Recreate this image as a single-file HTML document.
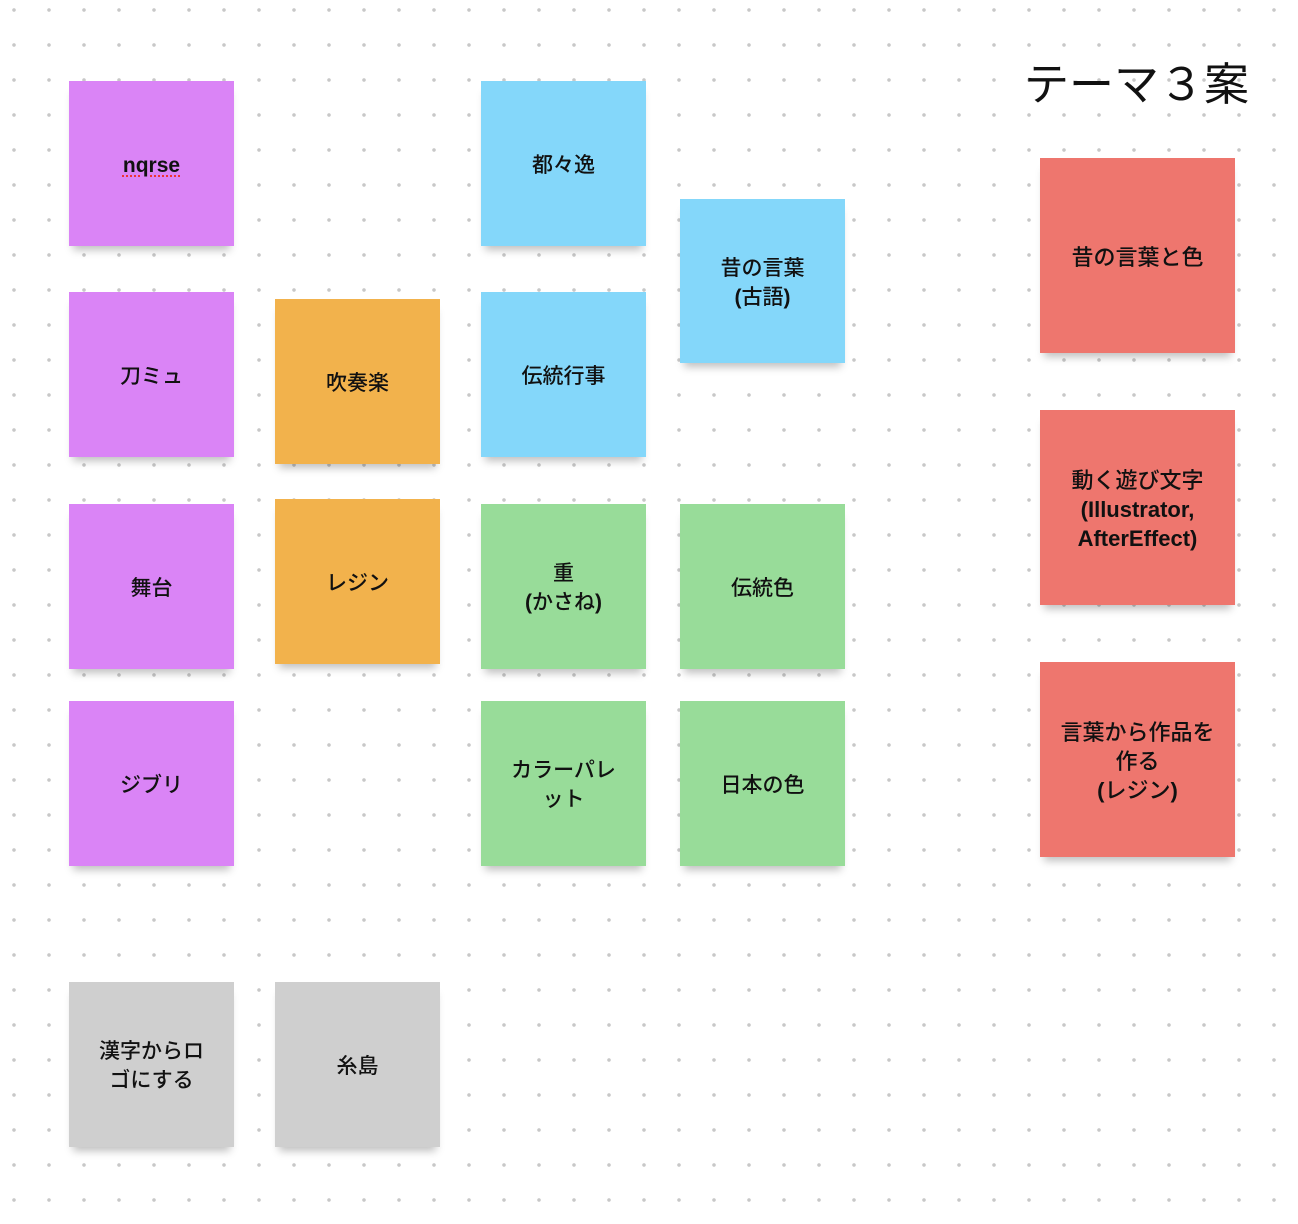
<!DOCTYPE html>
<html><head><meta charset="utf-8"><style>
html,body{margin:0;padding:0;}
body{width:1298px;height:1224px;position:relative;overflow:hidden;background:#fff;
background-image:radial-gradient(circle,#c8c8c8 1.6px,transparent 2px);
background-size:35px 35px;background-position:-3.5px -7.5px;
font-family:"Liberation Sans","Noto Sans CJK JP",sans-serif;}
.n{position:absolute;width:165px;height:165px;box-sizing:border-box;padding-top:3px;display:flex;align-items:center;justify-content:center;text-align:center;
font-size:21px;line-height:29px;font-weight:500;color:#111;box-shadow:0 8px 8px -4px rgba(0,0,0,0.25);}
.r{width:195px;height:195px;font-size:22px;}
.p{background:#DA84F6}.o{background:#F2B24C}.b{background:#84D7FA}.g{background:#98DC99}.y{background:#CFCFCF}.rd{background:#EE766E}
.t{position:absolute;left:1024px;top:56px;font-size:45px;line-height:58px;color:#111;}
b{font-weight:bold;}
u{font-weight:bold;text-decoration:underline dotted #e33;text-underline-offset:4px;text-decoration-thickness:2px;}
</style></head><body>
<div class="t">テーマ３案</div>
<div class="n p" style="left:69px;top:81px"><div><u>nqrse</u></div></div>
<div class="n p" style="left:69px;top:292px"><div>刀ミュ</div></div>
<div class="n p" style="left:69px;top:504px"><div>舞台</div></div>
<div class="n p" style="left:69px;top:701px"><div>ジブリ</div></div>
<div class="n o" style="left:275px;top:299px"><div>吹奏楽</div></div>
<div class="n o" style="left:275px;top:499px"><div>レジン</div></div>
<div class="n b" style="left:481px;top:81px"><div>都々逸</div></div>
<div class="n b" style="left:481px;top:292px"><div>伝統行事</div></div>
<div class="n b" style="left:680px;top:199px;height:164px"><div>昔の言葉<br><b>(</b>古語<b>)</b></div></div>
<div class="n g" style="left:481px;top:504px"><div>重<br><b>(</b>かさね<b>)</b></div></div>
<div class="n g" style="left:680px;top:504px"><div>伝統色</div></div>
<div class="n g" style="left:481px;top:701px"><div>カラーパレ<br>ット</div></div>
<div class="n g" style="left:680px;top:701px"><div>日本の色</div></div>
<div class="n y" style="left:69px;top:982px"><div>漢字からロ<br>ゴにする</div></div>
<div class="n y" style="left:275px;top:982px"><div>糸島</div></div>
<div class="n r rd" style="left:1040px;top:158px"><div>昔の言葉と色</div></div>
<div class="n r rd" style="left:1040px;top:410px"><div>動く遊び文字<br><b>(Illustrator,<br>AfterEffect)</b></div></div>
<div class="n r rd" style="left:1040px;top:662px"><div>言葉から作品を<br>作る<br><b>(</b>レジン<b>)</b></div></div>
</body></html>
